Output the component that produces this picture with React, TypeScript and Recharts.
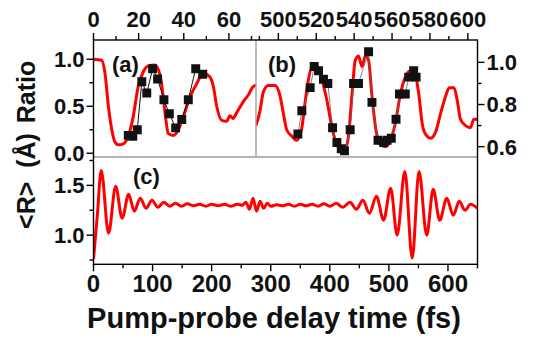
import React from 'react';
import { ComposedChart, Line, Scatter, XAxis, YAxis, ZAxis } from 'recharts';

const FONT = '"Liberation Sans", Arial, Helvetica, sans-serif';
const RED = '#ff0000';
const SEP = '#9a9a9a';
const INK = '#111111';

// panel (a): ratio vs delay, 0-72 fs
const aTime = [0, 3.6, 5.1, 6.6, 8.1, 9.5, 11, 13.2, 15.4, 17.6, 19.8, 22.1, 24.3, 27.2, 29.5, 30.9, 32.1, 33.1, 35.4, 37.6, 39.8, 42.8, 45.7, 48.6, 51.6, 53.1, 54.6, 56.8, 59, 60.5, 61.8, 63.4, 66.4, 68.6, 70.8, 72];
const aRed = [1.0, 0.99, 0.85, 0.5, 0.25, 0.12, 0.09, 0.1, 0.18, 0.39, 0.71, 0.87, 0.93, 0.94, 0.83, 0.6, 0.35, 0.21, 0.19, 0.25, 0.39, 0.6, 0.74, 0.85, 0.81, 0.71, 0.5, 0.35, 0.34, 0.4, 0.37, 0.43, 0.55, 0.62, 0.71, 0.72];
const aSqTime = [15.4, 17.4, 19.4, 21.4, 23.6, 26.2, 28.4, 31.2, 33.6, 36.4, 39.1, 42, 45.3, 48.4];
const aSqVal = [0.19, 0.18, 0.25, 0.76, 0.64, 0.9, 0.79, 0.57, 0.42, 0.27, 0.36, 0.57, 0.9, 0.84];

// panel (b): ratio vs delay, 488-605 fs (right axis)
const bTime = [488.2, 490.3, 492.1, 494.7, 498.3, 500.9, 502.6, 504.4, 507.1, 509.7, 512.4, 514.1, 515.9, 518, 520.3, 523, 525.6, 527.9, 530, 532.6, 535.3, 537, 538.8, 540.6, 542.3, 544.1, 545.9, 547.6, 549.4, 551.5, 553.8, 556.5, 559.1, 561.7, 564.4, 567, 569.7, 572.3, 574.1, 575.9, 577.6, 580.4, 583, 585.7, 588.3, 590.1, 592.7, 594.4, 596.1, 598.8, 601.4, 603.2, 605.1];
const bRed = [0.7, 0.77, 0.86, 0.89, 0.89, 0.84, 0.76, 0.68, 0.65, 0.63, 0.69, 0.81, 0.92, 0.98, 0.98, 0.92, 0.82, 0.71, 0.63, 0.59, 0.59, 0.65, 0.84, 1.01, 1.03, 0.98, 1.03, 1.01, 0.84, 0.68, 0.61, 0.6, 0.63, 0.71, 0.85, 0.93, 0.96, 0.94, 0.85, 0.71, 0.66, 0.64, 0.67, 0.76, 0.84, 0.88, 0.88, 0.82, 0.73, 0.7, 0.69, 0.73, 0.73];
const bSqTime = [510.3, 512.4, 516.8, 518.9, 521.2, 523.8, 526.1, 528.6, 530.9, 533.2, 534.9, 537.9, 539.7, 542.3, 547.6, 549.4, 552.6, 555.6, 557.4, 559.6, 562.1, 563.9, 567, 568.8, 571.4, 572.7];
const bSqVal = [0.66, 0.77, 0.88, 0.98, 0.96, 0.92, 0.9, 0.69, 0.62, 0.59, 0.58, 0.68, 0.9, 0.9, 1.05, 0.81, 0.63, 0.62, 0.63, 0.64, 0.73, 0.85, 0.85, 0.93, 0.96, 0.93];

// panel (c): <R> vs delay, 0-650 fs
const cTime = [0, 6.5, 13, 25.5, 37.5, 48.5, 59.5, 69, 79, 89, 99, 109, 119, 129, 139, 149, 159, 169, 180, 190, 200, 211, 222, 232, 243, 252, 258, 264, 270, 276, 282, 288, 294, 300, 310, 320, 330, 340, 350, 360, 370, 380, 390, 400, 411, 422, 434, 445, 456, 467, 479, 491, 503, 514, 527, 539.5, 551, 564, 575, 586, 598, 609, 619, 629, 638, 650];
const cR = [0.76, 1.2, 1.65, 1.02, 1.49, 1.17, 1.41, 1.24, 1.37, 1.27, 1.35, 1.28, 1.33, 1.29, 1.32, 1.29, 1.315, 1.295, 1.31, 1.29, 1.31, 1.295, 1.31, 1.29, 1.31, 1.3, 1.33, 1.26, 1.37, 1.24, 1.34, 1.27, 1.32, 1.29, 1.305, 1.295, 1.31, 1.29, 1.31, 1.295, 1.31, 1.29, 1.315, 1.29, 1.32, 1.28, 1.33, 1.26, 1.35, 1.22, 1.39, 1.15, 1.47, 1.0, 1.64, 0.77, 1.64, 1.0, 1.46, 1.15, 1.37, 1.2, 1.34, 1.25, 1.31, 1.27];

// axis ticks
const aTicks = [0, 10, 20, 30, 40, 50, 60, 70];
const aMajor = [0, 20, 40, 60];
const bTicks = [490, 500, 510, 520, 530, 540, 550, 560, 570, 580, 590, 600];
const bMajor = [500, 520, 540, 560, 580, 600];
const ratioTicks = [0, 0.25, 0.5, 0.75, 1.0];
const ratioMajor = [0, 0.5, 1.0];
const rightTicks = [0.6, 0.7, 0.8, 0.9, 1.0];
const rightMajor = [0.6, 0.8, 1.0];
const cTicks = [0, 50, 100, 150, 200, 250, 300, 350, 400, 450, 500, 550, 600, 650];
const cMajor = [0, 100, 200, 300, 400, 500, 600];
const rTicks = [0.75, 1.0, 1.25, 1.5, 1.75];
const rMajor = [1.0, 1.5];

const zip = (ts: number[], vs: number[]) => ts.map((t, i) => ({ t, v: vs[i] }));

type Side = 'top' | 'bottom' | 'left' | 'right';

// custom tick: mark + label for majors, short mark for minors
const makeTick = (side: Side, majors: number[], digits: number, fs: number) => (p: any) => {
  const x = Number(p.x);
  const y = Number(p.y);
  const val = p.payload.value as number;
  const major = majors.some((m) => Math.abs(m - val) < 1e-6);
  const len = major ? 7 : 4;
  const label = major ? val.toFixed(digits) : '';
  const txt = { fontFamily: FONT, fontWeight: 700, fontSize: fs, fill: INK };
  let d = '';
  let tx = x;
  let ty = y;
  let anchor: 'start' | 'middle' | 'end' = 'middle';
  let dy = '0';
  if (side === 'top') { d = `M${x},${y}V${y - len}`; ty = y - 13; }
  else if (side === 'bottom') { d = `M${x},${y}V${y + len}`; ty = y + 28; }
  else if (side === 'left') { d = `M${x},${y}H${x - len}`; tx = x - 9; anchor = 'end'; dy = '0.36em'; }
  else { d = `M${x},${y}H${x + len}`; tx = x + 9; anchor = 'start'; dy = '0.36em'; }
  return (
    <g>
      <path d={d} fill="none" stroke="#000" strokeWidth={1.4} />
      <text x={tx} y={ty} dy={dy} textAnchor={anchor} {...txt}>{label}</text>
    </g>
  );
};

const W = 534;
const H = 343;
const layer: React.CSSProperties = { position: 'absolute', left: 0, top: 0 };

// plot-area frame edges (pixels)
const PL = 93.5;
const PR = 477.5;
const PT = 40;
const PM = 157;
const PB = 264.3;
const PS = 256;

const App: React.FC = () => {
  const aLine = zip(aTime, aRed);
  const aSq = zip(aSqTime, aSqVal);
  const bLine = zip(bTime, bRed);
  const bSq = zip(bSqTime, bSqVal);
  const cLine = zip(cTime, cR);

  return (
    <div style={{ position: 'absolute', left: 0, top: 0, width: W, height: H, background: '#fff' }}>
      {/* (a) */}
      <div style={layer}>
        <ComposedChart width={W} height={H} margin={{ top: PT - 30, left: PL - 40, right: W - PS, bottom: H - PM }}>
          <XAxis xAxisId="m" orientation="top" dataKey="t" type="number" domain={[0, 72]} allowDataOverflow
            ticks={aTicks} interval={0} height={30} tickSize={0} tickMargin={0}
            tick={makeTick('top', aMajor, 0, 22)} axisLine={false} tickLine={false} />
          <YAxis yAxisId="m" orientation="left" dataKey="v" type="number" domain={[-0.04, 1.205]} allowDataOverflow
            ticks={ratioTicks} interval={0} width={40} tickSize={0} tickMargin={0}
            tick={makeTick('left', ratioMajor, 1, 22)} axisLine={false} tickLine={false} />
          <ZAxis range={[80, 80]} />
          <Line xAxisId="m" yAxisId="m" data={aLine} dataKey="v" type="monotone" stroke={RED}
            strokeWidth={3} dot={false} isAnimationActive={false} />
          <Scatter xAxisId="m" yAxisId="m" data={aSq} dataKey="v" shape="square" fill={INK}
            line={{ stroke: INK, strokeWidth: 1 }} isAnimationActive={false} />
        </ComposedChart>
      </div>

      {/* (b) */}
      <div style={layer}>
        <ComposedChart width={W} height={H} margin={{ top: PT - 30, left: PS, right: W - PR - 50, bottom: H - PM }}>
          <XAxis xAxisId="m" orientation="top" dataKey="t" type="number" domain={[488.2, 605.1]} allowDataOverflow
            ticks={bTicks} interval={0} height={30} tickSize={0} tickMargin={0}
            tick={makeTick('top', bMajor, 0, 22)} axisLine={false} tickLine={false} />
          <YAxis yAxisId="m" orientation="right" dataKey="v" type="number" domain={[0.551, 1.106]} allowDataOverflow
            ticks={rightTicks} interval={0} width={50} tickSize={0} tickMargin={0}
            tick={makeTick('right', rightMajor, 1, 22)} axisLine={false} tickLine={false} />
          <ZAxis range={[80, 80]} />
          <Line xAxisId="m" yAxisId="m" data={bLine} dataKey="v" type="monotone" stroke={RED}
            strokeWidth={3} dot={false} isAnimationActive={false} />
          <Scatter xAxisId="m" yAxisId="m" data={bSq} dataKey="v" shape="square" fill={INK}
            line={{ stroke: '#666', strokeWidth: 0.8 }} isAnimationActive={false} />
        </ComposedChart>
      </div>

      {/* (c) */}
      <div style={layer}>
        <ComposedChart width={W} height={H} margin={{ top: PM, left: PL - 40, right: W - PR, bottom: H - PB - 40 }}>
          <XAxis xAxisId="m" orientation="bottom" dataKey="t" type="number" domain={[0, 650]} allowDataOverflow
            ticks={cTicks} interval={0} height={40} tickSize={0} tickMargin={0}
            tick={makeTick('bottom', cMajor, 0, 24)} axisLine={false} tickLine={false} />
          <YAxis yAxisId="m" orientation="left" dataKey="v" type="number" domain={[0.707, 1.785]} allowDataOverflow
            ticks={rTicks} interval={0} width={40} tickSize={0} tickMargin={0}
            tick={makeTick('left', rMajor, 1, 22)} axisLine={false} tickLine={false} />
          <Line xAxisId="m" yAxisId="m" data={cLine} dataKey="v" type="monotone" stroke={RED}
            strokeWidth={3} dot={false} isAnimationActive={false} />
        </ComposedChart>
      </div>

      {/* frames, titles and panel letters on top */}
      <svg width={W} height={H} style={{ ...layer, pointerEvents: 'none' }}>
        <path d={`M${PL},${PM}H${PR}M${PS},${PT}V${PM}`} fill="none" stroke={SEP} strokeWidth={1.3} />
        <rect x={PL} y={PT} width={PR - PL} height={PB - PT} fill="none" stroke="#000" strokeWidth={1.4} />
        <g fontFamily={FONT} fontWeight={700} fill={INK}>
          <text x={112} y={72} fontSize={22}>(a)</text>
          <text x={268} y={72} fontSize={22}>(b)</text>
          <text x={133} y={184} fontSize={22}>(c)</text>
          <text x={274} y={328} fontSize={29} textAnchor="middle">Pump-probe delay time (fs)</text>
          <text transform="translate(35,92) rotate(-90)" fontSize={25} textAnchor="middle">Ratio</text>
          <text transform="translate(35,181) rotate(-90)" fontSize={25} textAnchor="middle"
            style={{ whiteSpace: 'pre' }}>{'<R>  (Å)'}</text>
        </g>
      </svg>
    </div>
  );
};

export default App;
